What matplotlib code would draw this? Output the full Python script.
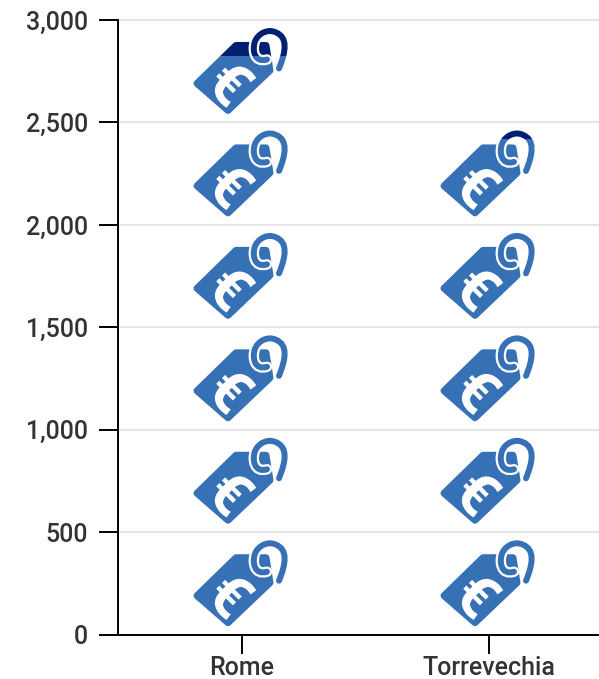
import math
import matplotlib
matplotlib.use('Agg')
import matplotlib.pyplot as plt
from matplotlib.patches import PathPatch, Rectangle
from matplotlib.path import Path
from matplotlib.textpath import TextPath
from matplotlib.font_manager import FontProperties
from matplotlib.transforms import Affine2D

# Data
cities = ['Rome', 'Torrevechia']
values = [2825, 2420]
y_ticks = [0, 500, 1000, 1500, 2000, 2500, 3000]
icon_unit = 500

light_blue = '#3771b5'
dark_blue = '#021f72'

W, H = 599, 679
plt.rcParams['font.family'] = ['Roboto', 'DejaVu Sans']

fig = plt.figure(figsize=(W / 100, H / 100), dpi=100)
ax = fig.add_axes([117.5 / W, (H - 634.7) / H, (W - 117.5) / W, 614.7 / H])
ax.set_ylim(0, 3000)
ax.set_xlim((117.5 - 242) / 247, (W - 242) / 247)

# data units per pixel, the icon is drawn in pixels
px_x = 1 / 247
px_y = 3000 / 614.7

# icon shapes, pixels from the slot's bottom centre
body = Path([(-45, 39), (-14, 12), (28, 52), (24, 77), (-6, 77), (-45, 39)],
            [Path.MOVETO, Path.LINETO, Path.LINETO, Path.LINETO, Path.LINETO, Path.CLOSEPOLY])
string = Path([(25, 63), (12, 59), (10, 73), (13, 81), (16, 89), (26, 94), (34, 90), (46, 85), (44, 71), (37, 54)],
              [Path.MOVETO] + [Path.CURVE4] * 9)
euro_path = TextPath((0, 0), '€', size=60, prop=FontProperties(family='Roboto', weight='bold'))
box = euro_path.get_extents()
euro_path = euro_path.transformed(
    Affine2D().translate(-(box.x0 + box.x1) / 2, -(box.y0 + box.y1) / 2).rotate_deg(-45).translate(-11, 40))


def draw_icon(cx, slot_bottom, clip_from, clip_to, color):
    place = Affine2D().scale(px_x, px_y).translate(cx, slot_bottom) + ax.transData
    clip = Rectangle((cx - 0.4, clip_from), 0.8, clip_to - clip_from, transform=ax.transData)
    parts = [
        PathPatch(body, facecolor=color, edgecolor=color, lw=5, joinstyle='round'),
        PathPatch(string, facecolor='none', edgecolor='white', lw=7.5, capstyle='round'),
        PathPatch(string, facecolor='none', edgecolor=color, lw=4.3, capstyle='round'),
        PathPatch(euro_path, facecolor='white', edgecolor='none'),
    ]
    for p in parts:
        p.set_transform(place)
        ax.add_patch(p)
        p.set_clip_path(clip)
        p.set_zorder(3)


for i, v in enumerate(values):
    for n in range(math.ceil(v / icon_unit)):
        bottom = n * icon_unit
        top = bottom + icon_unit
        level = min(v, top)
        draw_icon(i, bottom, bottom, level, light_blue)
        if level < top:
            draw_icon(i, bottom, level, top, dark_blue)

ax.set_xticks(range(len(cities)))
ax.set_xticklabels(cities, fontweight='medium')
ax.set_yticks(y_ticks)
ax.set_yticklabels([f'{t:,}' for t in y_ticks], fontweight='medium')
ax.grid(axis='y', color='#e6e6e6', lw=1.5, clip_on=False)
ax.set_axisbelow(True)
ax.tick_params(axis='both', length=14, width=1.4, color='black', labelsize=18, labelcolor='#333333')
ax.tick_params(axis='y', pad=7)
ax.tick_params(axis='x', pad=1)
for s in ['top', 'right']:
    ax.spines[s].set_visible(False)
for s in ['left', 'bottom']:
    ax.spines[s].set_linewidth(1.4)

fig.savefig('out.png', dpi=100)
